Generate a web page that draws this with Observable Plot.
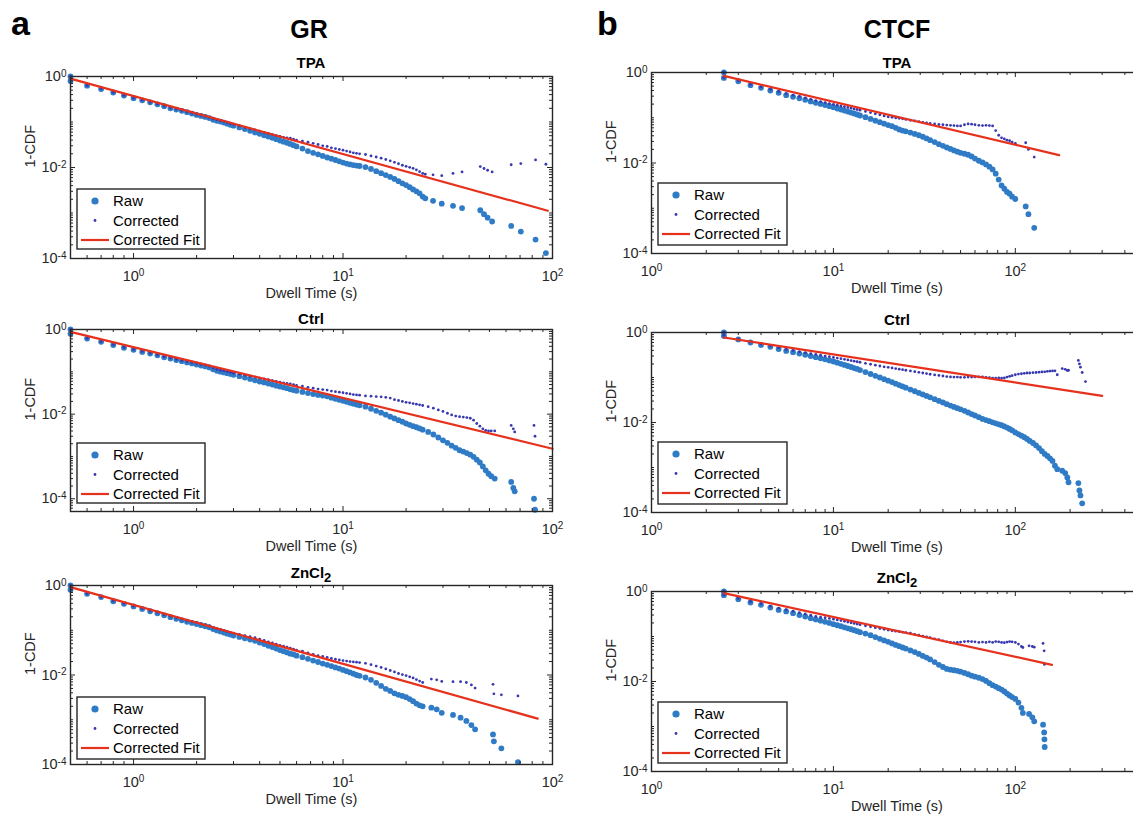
<!DOCTYPE html>
<html><head><meta charset="utf-8">
<script src="https://cdn.jsdelivr.net/npm/d3@7"></script>
<script src="https://cdn.jsdelivr.net/npm/@observablehq/plot@0.6"></script>
<style>
html,body{margin:0;padding:0;background:#fff;overflow:hidden;}
#fig{position:relative;width:1133px;height:817px;overflow:hidden;background:#fff;}
#fig > svg{position:absolute;}
</style></head>
<body><div id="fig"></div>
<script>
// ---------------- data ----------------
const grGrid = [0.5,0.6,0.7,0.8,0.9,
 1.0,1.1,1.2,1.3,1.4,1.5,1.6,1.7,1.8,1.9,
 2.0,2.1,2.2,2.3,2.4,2.5,2.6,2.7,2.8,2.9,
 3.0,
 3.2,3.4,3.6,3.8,4.0,4.2,4.4,4.6,4.8,5.0,5.2,5.4,5.6,5.8,6.0,
 6.4,6.8,7.2,7.6,8.0,8.4,8.8,9.2,9.6,10.0,10.4,10.8,11.2,11.6,12.0,
 12.8,13.6,14.4,15.2,16.0,16.8,17.6,18.4,19.2,20.0,20.8,21.6,22.4,23.2,24.0];

const ctcfGrid = [2.5,3.0,3.5,4.0,4.5,5.0,5.5,6.0,6.5,7.0,
 7.5,8.0,8.5,9.0,9.5,10,10.5,11,11.5,12,
 12.5,13,13.5,14,
 15,16,17,18,19,20,21,22,23,24,25,
 26.5,28,29.5,31,32.5,34,
 36,38,40,42,44,46,48,50,
 52.5,55,57.5,60,
 63,66,69,72,75,78,81,84,87,90,93,96,100];

// GR - TPA
const grTpaTime = [...grGrid, 0.5, 24.7, 26.9, 29.6, 33.5, 37, 45.2, 47.1, 49, 51.5, 63.5, 70.6, 83, 93];
const grTpaRaw = [1.0,0.63,0.53,0.445,0.38,
 0.334,0.30,0.27,0.245,0.222,0.20,0.188,0.176,0.164,0.153,
 0.143,0.136,0.129,0.122,0.112,0.106,0.102,0.097,0.092,0.087,
 0.083,
 0.076,0.070,0.064,0.059,0.055,0.051,0.048,0.045,0.042,0.039,0.037,0.035,0.033,0.031,0.029,
 0.026,0.023,0.021,0.0195,0.018,0.0166,0.0156,0.0146,0.0137,0.0128,0.0122,0.0117,0.0113,0.0110,0.0108,
 0.0102,0.0093,0.0083,0.0075,0.0068,0.0062,0.0056,0.0050,0.0045,0.0041,0.0037,0.0033,0.0030,0.0027,0.0023,
 0.8,0.0021,0.00185,0.0016,0.00144,0.00128,0.00115,0.00094,0.00079,0.00065,0.00052,0.00039,0.00026,0.000131];
const grTpaCor = [1.0,0.64,0.54,0.45,0.385,
 0.34,0.305,0.275,0.25,0.227,0.206,0.193,0.181,0.169,0.158,
 0.148,0.141,0.134,0.127,0.117,0.111,0.107,0.102,0.097,0.092,
 0.089,
 0.082,0.076,0.071,0.067,0.063,0.059,0.056,0.053,0.050,0.048,0.046,0.045,0.044,0.042,0.040,
 0.038,0.036,0.034,0.032,0.030,0.029,0.027,0.026,0.025,0.024,0.023,0.022,0.021,0.0205,0.020,
 0.0193,0.018,0.017,0.016,0.015,0.014,0.013,0.0121,0.0112,0.0106,0.0101,0.0096,0.0089,0.0081,0.0074,
 null,0.0071,0.0069,0.0066,0.0074,0.0080,0.0105,0.0095,0.0087,0.0080,0.0115,0.0122,0.0147,0.0118];
const grTpaFitTime = [0.5, 95];
const grTpaFit = [0.90, 0.00112];

// GR - Ctrl
const grCtrlTime = [...grGrid, 25.5,27,28.5,30,31.5,33,34.5,36,37.5,39,40.5,42,43.5,45,46.5,48,49.5,
 0.5, 51, 53, 63.5, 65, 66, 81.6, 82.5];
const grCtrlRaw = [1.0,0.61,0.51,0.43,0.37,
 0.33,0.295,0.27,0.245,0.22,0.205,0.19,0.178,0.167,0.158,
 0.149,0.141,0.134,0.127,0.115,0.106,0.101,0.097,0.093,0.089,
 0.085,
 0.079,0.073,0.068,0.063,0.059,0.056,0.053,0.050,0.047,0.045,0.043,0.041,0.0386,0.037,0.0357,
 0.0335,0.0315,0.0298,0.0285,0.0274,0.0264,0.0245,0.0230,0.0218,0.0206,0.0195,0.0185,0.0177,0.0168,0.0162,
 0.0150,0.0134,0.0120,0.0108,0.0097,0.0087,0.0079,0.0072,0.0066,0.0060,0.0056,0.0052,0.0049,0.0046,0.0043,
 0.0038,0.0033,0.0028,0.0024,0.0021,0.0018,0.0016,0.0014,0.0013,0.0012,0.0011,0.00098,0.00084,0.00072,0.00058,0.00047,0.00039,
 0.79,0.00034,0.0003,0.00025,0.00018,0.00015,0.0001,0.000055];
const grCtrlCor = [1.0,0.62,0.52,0.44,0.38,
 0.34,0.303,0.278,0.253,0.228,0.213,0.198,0.186,0.175,0.166,
 0.157,0.149,0.142,0.135,0.123,0.114,0.109,0.105,0.101,0.097,
 0.093,
 0.088,0.083,0.079,0.075,0.071,0.068,0.065,0.062,0.059,0.057,0.055,0.053,0.052,0.050,0.048,
 0.046,0.043,0.041,0.039,0.038,0.037,0.035,0.034,0.033,0.032,0.031,0.030,0.029,0.0285,0.028,
 0.027,0.0265,0.026,0.0257,0.025,0.024,0.022,0.021,0.020,0.019,0.0185,0.0178,0.0172,0.0166,0.016,
 0.015,0.0138,0.0126,0.0116,0.0105,0.0096,0.0090,0.0087,0.0085,0.0083,0.0080,0.0072,0.0060,0.0052,0.0045,0.0041,0.0040,
 null,0.0040,0.0040,0.0054,0.0045,0.0038,0.0054,0.0030];
const grCtrlFitTime = [0.5, 100];
const grCtrlFit = [0.88, 0.00152];

// GR - ZnCl2
const grZnTime = [...grGrid, 0.5, 26.4, 28, 29.6, 33.5, 36.4, 38.8, 41, 42.7, 52, 52.5, 57, 68.4];
const grZnRaw = [1.0,0.65,0.55,0.445,0.39,
 0.34,0.30,0.266,0.24,0.215,0.196,0.180,0.167,0.155,0.146,
 0.138,0.130,0.123,0.116,0.106,0.099,0.094,0.089,0.084,0.080,
 0.076,
 0.071,0.066,0.062,0.058,0.053,0.049,0.045,0.042,0.039,0.036,0.034,0.032,0.030,0.029,0.027,
 0.025,0.023,0.021,0.0195,0.018,0.0169,0.0158,0.0148,0.0139,0.0130,0.0122,0.0114,0.0107,0.0100,0.0096,
 0.0088,0.0078,0.0067,0.0057,0.0049,0.0044,0.0039,0.0036,0.0034,0.0032,0.0029,0.0026,0.0023,0.0021,0.0020,
 0.80,0.00186,0.00171,0.00143,0.00128,0.00111,0.00094,0.00076,0.00061,0.00047,0.00033,0.00023,0.000113];
const grZnCor = [1.0,0.66,0.56,0.455,0.40,
 0.35,0.31,0.275,0.25,0.225,0.206,0.19,0.177,0.165,0.156,
 0.148,0.140,0.133,0.126,0.116,0.109,0.104,0.099,0.094,0.090,
 0.086,
 0.081,0.076,0.072,0.068,0.063,0.059,0.055,0.052,0.049,0.046,0.044,0.042,0.040,0.038,0.036,
 0.034,0.031,0.029,0.027,0.026,0.0247,0.0235,0.0225,0.0217,0.021,0.0205,0.020,0.0196,0.0193,0.019,
 0.0182,0.017,0.0158,0.0148,0.0137,0.0126,0.0117,0.0108,0.0102,0.0097,0.0091,0.0086,0.0079,0.0073,0.0068,
 null,0.0081,0.0078,0.0072,0.0071,0.0071,0.0068,0.0060,0.0051,0.0062,0.0038,0.0036,0.0034];
const grZnFitTime = [0.5, 85];
const grZnFit = [0.92, 0.00106];

// CTCF - TPA
const ctcfTpaTime = [...ctcfGrid, 2.5, 114, 118, 127];
const ctcfTpaRaw = [1.0,0.64,0.525,0.458,0.40,0.355,0.316,0.29,0.27,0.249,
 0.229,0.214,0.202,0.191,0.180,0.171,0.160,0.152,0.144,0.137,
 0.130,0.124,0.118,0.112,
 0.103,0.094,0.086,0.080,0.074,0.069,0.065,0.060,0.055,0.052,0.050,
 0.047,0.044,0.041,0.038,0.035,0.032,
 0.029,0.026,0.024,0.022,0.0205,0.019,0.0178,0.0168,
 0.0160,0.0152,0.0140,0.0125,
 0.0112,0.0103,0.0093,0.0083,0.0072,0.0058,0.0043,0.0032,0.0027,0.0023,0.0021,0.0018,0.0016,
 0.76,0.0011,0.00074,0.00037];
const ctcfTpaCor = [1.0,0.66,0.545,0.48,0.425,0.38,0.342,0.316,0.296,0.275,
 0.256,0.24,0.228,0.217,0.206,0.197,0.189,0.182,0.175,0.169,
 0.163,0.157,0.152,0.147,
 0.138,0.130,0.122,0.116,0.110,0.105,0.102,0.099,0.097,0.095,0.092,
 0.088,0.085,0.082,0.079,0.077,0.075,
 0.073,0.071,0.070,0.069,0.068,0.067,0.066,0.066,
 0.070,0.073,0.072,0.070,
 0.068,0.067,0.068,0.067,0.066,0.052,0.041,0.036,0.034,0.032,0.031,0.029,0.027,
 0.78,0.028,0.020,0.0135];
const ctcfTpaFitTime = [2.5, 174];
const ctcfTpaFit = [0.84, 0.0149];

// CTCF - Ctrl
const ctcfCtrlTime = [...ctcfGrid, 104,108,112,116,120,125,130,135,140,145,150,155,160,165,
 2.5, 170, 181, 188, 193, 196, 222, 225, 228, 233, 243];
const ctcfCtrlRaw = [1.0,0.70,0.60,0.53,0.48,0.43,0.39,0.366,0.34,0.32,
 0.30,0.283,0.268,0.254,0.240,0.227,0.213,0.201,0.190,0.180,
 0.171,0.162,0.155,0.146,
 0.132,0.1195,0.109,0.100,0.092,0.085,0.079,0.073,0.068,0.0634,0.0594,
 0.054,0.0495,0.0455,0.042,0.039,0.0363,
 0.033,0.0302,0.0278,0.0256,0.0238,0.0222,0.0208,0.0196,
 0.0182,0.0167,0.0154,0.0143,
 0.0131,0.0120,0.0113,0.0107,0.0101,0.0096,0.0091,0.0087,0.0082,0.0077,0.0072,0.0067,0.0060,
 0.0055,0.0051,0.0047,0.0043,0.0039,0.0035,0.0031,0.0027,0.0023,0.0020,0.0018,0.0016,0.0014,0.0011,
 0.84,0.00092,0.00085,0.00075,0.0006,0.00047,0.00045,0.00031,0.00024,0.00016,null];
const ctcfCtrlCor = [1.0,0.72,0.62,0.555,0.505,0.46,0.42,0.40,0.375,0.357,
 0.34,0.325,0.312,0.30,0.29,0.28,0.27,0.262,0.254,0.246,
 0.238,0.231,0.224,0.218,
 0.207,0.197,0.188,0.180,0.173,0.168,0.163,0.158,0.153,0.149,0.145,
 0.140,0.135,0.130,0.126,0.122,0.118,
 0.114,0.111,0.108,0.105,0.103,0.102,0.102,0.101,
 0.101,0.102,0.102,0.103,
 0.103,0.103,0.101,0.099,0.097,0.097,0.098,0.097,0.098,0.102,0.106,0.110,0.115,
 0.119,0.121,0.124,0.126,0.126,0.128,0.129,0.131,0.133,0.134,0.137,0.139,0.140,0.141,
 0.86,0.115,0.158,0.152,0.143,0.145,0.239,0.20,0.17,0.129,0.081];
const ctcfCtrlFitTime = [2.5, 300];
const ctcfCtrlFit = [0.774, 0.039];

// CTCF - ZnCl2
const ctcfZnTime = [...ctcfGrid, 104, 108, 2.5, 110, 119, 124, 127, 142, 144, 144.5, 145];
const ctcfZnRaw = [1.0,0.675,0.57,0.505,0.44,0.39,0.36,0.33,0.30,0.278,
 0.256,0.239,0.225,0.212,0.200,0.188,0.178,0.169,0.160,0.152,
 0.145,0.138,0.131,0.125,
 0.116,0.107,0.097,0.089,0.082,0.076,0.070,0.065,0.061,0.057,0.054,
 0.049,0.045,0.041,0.037,0.034,0.031,
 0.027,0.0235,0.0210,0.0190,0.0183,0.0178,0.0173,0.0165,
 0.0155,0.0145,0.0135,0.0128,
 0.0121,0.0113,0.0103,0.0092,0.0083,0.0077,0.0071,0.0066,0.0060,0.0054,0.0049,0.0045,0.0041,
 0.0034,0.0026,
 0.83,0.0020,0.0019,0.0016,0.0013,0.0011,0.00074,0.00052,0.00035];
const ctcfZnCor = [1.0,0.70,0.60,0.535,0.475,0.425,0.395,0.365,0.34,0.317,
 0.297,0.28,0.268,0.261,0.252,0.243,0.234,0.226,0.218,0.210,
 0.202,0.195,0.189,0.183,
 0.173,0.164,0.157,0.150,0.144,0.139,0.135,0.131,0.128,0.125,0.122,
 0.118,0.112,0.107,0.102,0.098,0.094,
 0.089,0.085,0.080,0.076,0.074,0.073,0.074,0.075,
 0.077,0.078,0.077,0.076,
 0.074,0.075,0.074,0.076,0.074,0.077,0.076,0.074,0.073,0.075,0.077,0.076,0.074,
 0.068,0.060,
 0.85,0.057,0.062,0.060,0.058,0.070,0.048,0.024,null];
const ctcfZnFitTime = [2.5, 159];
const ctcfZnFit = [0.918, 0.0235];

// axis tick labels (decades)
const xTickValues = [1, 10, 100];
const yTickValues = [1, 0.01, 0.0001];
const seriesNames = ["Raw", "Corrected", "Corrected Fit"];
const xLabel = "Dwell Time (s)";
const yLabel = "1-CDF";

// ---------------- drawing ----------------
const FONT = '"Liberation Sans", Arial, Helvetica, sans-serif';
const RAW = "#2f7bc6", COR = "#3838b0", RED = "#e6311d", AX = "#262626";
const fig = document.getElementById("fig");
const NS = "http://www.w3.org/2000/svg";

function minorTicks(domain, majors) {
  const out = [];
  const lo = Math.floor(Math.log10(domain[0])), hi = Math.ceil(Math.log10(domain[1]));
  for (let e = lo; e <= hi; e++) for (let k = 1; k <= 9; k++) {
    const v = k * Math.pow(10, e);
    if (v >= domain[0] * 0.999 && v <= domain[1] * 1.001 && !majors.some(m => Math.abs(m - v) / v < 1e-9)) out.push(v);
  }
  return out;
}
const fmt = d => `10^${Math.round(Math.log10(d))}`;

function panel(c) {
  if (c.t.length !== c.raw.length || c.t.length !== c.cor.length)
    throw new Error("length mismatch " + c.name + " " + c.t.length + " " + c.raw.length + " " + c.cor.length);
  const mL = 60, mR = 12, mT = 10, mB = 50;
  const w = c.w, h = c.h;
  const data = c.t.map((x, i) => ({t: x, raw: c.raw[i], cor: c.cor[i]}));
  const fit = c.fitT.map((x, i) => ({t: x, y: c.fitY[i]}));
  const xMaj = xTickValues.filter(v => v >= c.xDomain[0] && v <= c.xDomain[1]);
  const yMaj = yTickValues.filter(v => v >= c.yDomain[0] * 0.999 && v <= c.yDomain[1]);
  const xMin = minorTicks(c.xDomain, xMaj), yMin = minorTicks(c.yDomain, yMaj);
  const svg = Plot.plot({
    width: mL + w + mR, height: mT + h + mB,
    marginLeft: mL, marginRight: mR, marginTop: mT, marginBottom: mB,
    x: {type: "log", domain: c.xDomain},
    y: {type: "log", domain: c.yDomain},
    style: {fontFamily: FONT, fontSize: "14.5px", color: AX, background: "transparent", overflow: "visible"},
    marks: [
      Plot.dot(data, {x: "t", y: "raw", r: 2.9, fill: RAW}),
      Plot.dot(data, {x: "t", y: "cor", r: 1.4, fill: COR}),
      Plot.line(fit, {x: "t", y: "y", stroke: RED, strokeWidth: 2.2}),
      Plot.ruleX(xMaj, {insetTop: h - 5, stroke: AX}),
      Plot.ruleX(xMaj, {insetBottom: h - 5, stroke: AX}),
      Plot.ruleX(xMin, {insetTop: h - 3, stroke: AX}),
      Plot.ruleX(xMin, {insetBottom: h - 3, stroke: AX}),
      Plot.ruleY(yMaj, {insetLeft: w - 5, stroke: AX}),
      Plot.ruleY(yMaj, {insetRight: w - 5, stroke: AX}),
      Plot.ruleY(yMin, {insetLeft: w - 3, stroke: AX}),
      Plot.ruleY(yMin, {insetRight: w - 3, stroke: AX}),
      Plot.frame({stroke: AX, strokeWidth: 1.4}),
      Plot.axisX(xMaj, {tickSize: 0, tickPadding: 12, tickFormat: fmt, label: null, fontSize: 14.5}),
      Plot.axisY(yMaj, {tickSize: 0, tickPadding: 4, tickFormat: fmt, label: null, fontSize: 14.5}),
      Plot.text([xLabel], {frameAnchor: "bottom", dy: 39, text: d => d, fontSize: 14.5, fill: AX}),
      Plot.text([yLabel], {frameAnchor: "left", dx: -40, rotate: -90, text: d => d, fontSize: 14.5, fill: AX})
    ]
  });
  svg.querySelectorAll("text").forEach(t => {
    const m = /^10\^(.+)$/.exec(t.textContent);
    if (m) {
      t.textContent = "10";
      t.setAttribute("font-size", "14.5px");
      t.style.fontSize = "14.5px";
      t.setAttribute("fill", AX);
      const ts = document.createElementNS(NS, "tspan");
      ts.setAttribute("dy", "-0.45em");
      ts.setAttribute("font-size", "10px");
      ts.style.fontSize = "10px";
      ts.textContent = m[1];
      t.appendChild(ts);
    }
  });
  svg.style.left = (c.left - mL) + "px";
  svg.style.top = (c.top - mT) + "px";
  fig.appendChild(svg);
}

const grX = [0.5, 100], ctX = [1, 500];
panel({name: "grTpa", t: grTpaTime, raw: grTpaRaw, cor: grTpaCor, fitT: grTpaFitTime, fitY: grTpaFit, xDomain: grX, yDomain: [1e-4, 1], left: 70, top: 76, w: 482, h: 182});
panel({name: "grCtrl", t: grCtrlTime, raw: grCtrlRaw, cor: grCtrlCor, fitT: grCtrlFitTime, fitY: grCtrlFit, xDomain: grX, yDomain: [5e-5, 1], left: 70, top: 329, w: 482, h: 182});
panel({name: "grZn", t: grZnTime, raw: grZnRaw, cor: grZnCor, fitT: grZnFitTime, fitY: grZnFit, xDomain: grX, yDomain: [1e-4, 1], left: 70, top: 585, w: 482, h: 179});
panel({name: "ctTpa", t: ctcfTpaTime, raw: ctcfTpaRaw, cor: ctcfTpaCor, fitT: ctcfTpaFitTime, fitY: ctcfTpaFit, xDomain: ctX, yDomain: [1e-4, 1], left: 651, top: 72, w: 491, h: 181});
panel({name: "ctCtrl", t: ctcfCtrlTime, raw: ctcfCtrlRaw, cor: ctcfCtrlCor, fitT: ctcfCtrlFitTime, fitY: ctcfCtrlFit, xDomain: ctX, yDomain: [1e-4, 1], left: 651, top: 332, w: 491, h: 180});
panel({name: "ctZn", t: ctcfZnTime, raw: ctcfZnRaw, cor: ctcfZnCor, fitT: ctcfZnFitTime, fitY: ctcfZnFit, xDomain: ctX, yDomain: [1e-4, 1], left: 651, top: 591, w: 491, h: 180});

// ---------------- overlay: headers, titles, legends ----------------
const ov = document.createElementNS(NS, "svg");
ov.setAttribute("width", 1133); ov.setAttribute("height", 817);
ov.style.left = "0px"; ov.style.top = "0px";
ov.setAttribute("font-family", FONT);
fig.appendChild(ov);
function el(tag, attrs, text) {
  const e = document.createElementNS(NS, tag);
  for (const k in attrs) e.setAttribute(k, attrs[k]);
  if (text != null) e.textContent = text;
  ov.appendChild(e);
  return e;
}
el("text", {x: 11, y: 35, "font-size": 34, "font-weight": "bold", fill: "#000"}, "a");
el("text", {x: 309, y: 38, "font-size": 25, "font-weight": "bold", fill: "#000", "text-anchor": "middle"}, "GR");
el("text", {x: 597, y: 35, "font-size": 34, "font-weight": "bold", fill: "#000"}, "b");
el("text", {x: 897, y: 38, "font-size": 25, "font-weight": "bold", fill: "#000", "text-anchor": "middle"}, "CTCF");

const titles = [
  {x: 311, y: 68, t: "TPA"}, {x: 311, y: 324, t: "Ctrl"}, {x: 311, y: 578, t: "ZnCl", sub: "2"},
  {x: 897, y: 68, t: "TPA"}, {x: 897, y: 325, t: "Ctrl"}, {x: 897, y: 583, t: "ZnCl", sub: "2"}
];
for (const tt of titles) {
  const e = el("text", {x: tt.x, y: tt.y, "font-size": 15, "font-weight": "bold", fill: "#000", "text-anchor": "middle"}, tt.t);
  if (tt.sub) {
    const s = document.createElementNS(NS, "tspan");
    s.setAttribute("dy", 4); s.setAttribute("font-size", 13);
    s.textContent = tt.sub; e.appendChild(s);
  }
}

const legends = [[77, 189, 128, 60], [77, 443, 128, 60], [77, 697, 128, 62],
                 [658, 183, 129, 62], [658, 442, 129, 62], [658, 702, 129, 61]];
for (const [L, T, W, H] of legends) {
  el("rect", {x: L, y: T, width: W, height: H, fill: "#fff", stroke: AX, "stroke-width": 1.4});
  const rows = [T + 12, T + 31.5, T + 51];
  el("circle", {cx: L + 18, cy: rows[0], r: 3.6, fill: RAW});
  el("circle", {cx: L + 18, cy: rows[1], r: 1.4, fill: COR});
  el("line", {x1: L + 4, x2: L + 32, y1: rows[2], y2: rows[2], stroke: RED, "stroke-width": 2.2});
  seriesNames.forEach((n, i) => el("text", {x: L + 36, y: rows[i] + 5.3, "font-size": 15, fill: "#000"}, n));
}
</script>
</body></html>
